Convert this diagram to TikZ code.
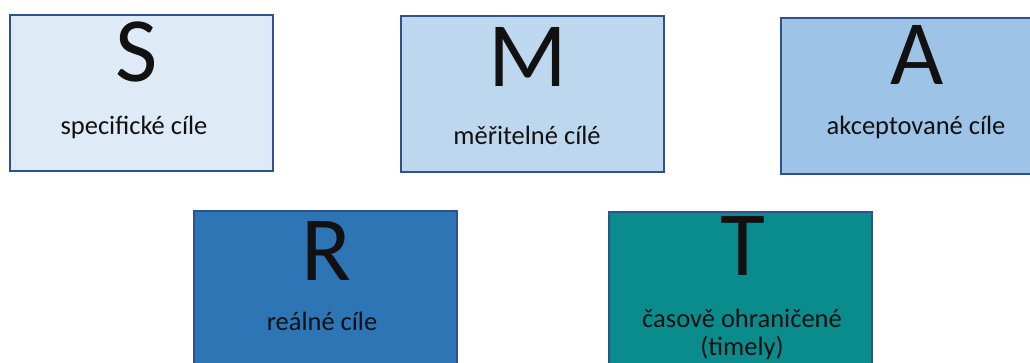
\documentclass[tikz,border=0pt]{standalone}
\usepackage{fontspec}
\setmainfont{Carlito}
\definecolor{cardline}{HTML}{2F528F}
\definecolor{fillS}{HTML}{DEEBF7}
\definecolor{fillM}{HTML}{BDD7EE}
\definecolor{fillA}{HTML}{9DC3E6}
\definecolor{fillR}{HTML}{2E75B6}
\definecolor{fillT}{HTML}{0B8C8C}
\definecolor{ink}{HTML}{111111}
\begin{document}
\begin{tikzpicture}[x=1pt,y=-1pt,
  card/.style={draw=cardline, line width=1.8pt, anchor=north west, inner sep=0pt,
               minimum width=263pt, minimum height=156pt},
  big/.style={anchor=base, font=\fontsize{92}{92}\selectfont, text=ink, inner sep=0pt},
  caption/.style={anchor=base, font=\fontsize{26.5}{28}\selectfont, text=ink, inner sep=0pt},
]
\useasboundingbox (0,0) rectangle (1030,363);
\clip (0,0) rectangle (1030,363);

% top row
\node[card, fill=fillS] (boxS) at (9,14) {};
\node[card, fill=fillM] (boxM) at (400,15) {};
\node[card, fill=fillA] (boxA) at (780,17) {};
% bottom row (runs past the lower edge)
\node[card, fill=fillR] (boxR) at (193,210) {};
\node[card, fill=fillT] (boxT) at (608,211) {};

% initials
\node[big] (S) at (137,82) {S};
\node[big] (M) at (528,87) {M};
\node[big] (A) at (917,85) {A};
\node[big] (R) at (326,280) {R};
\node[big] (T) at (743,276) {T};

% captions
\node[caption] (capS) at (134,135) {specifické cíle};
\node[caption] (capM) at (527,145) {měřitelné cílé};
\node[caption] (capA) at (916,135) {akceptované cíle};
\node[caption] (capR) at (322,330) {reálné cíle};
\node[caption] (capT1) at (742,327) {časově ohraničené};
\node[caption] (capT2) at (742,355) {(timely)};
\end{tikzpicture}
\end{document}
